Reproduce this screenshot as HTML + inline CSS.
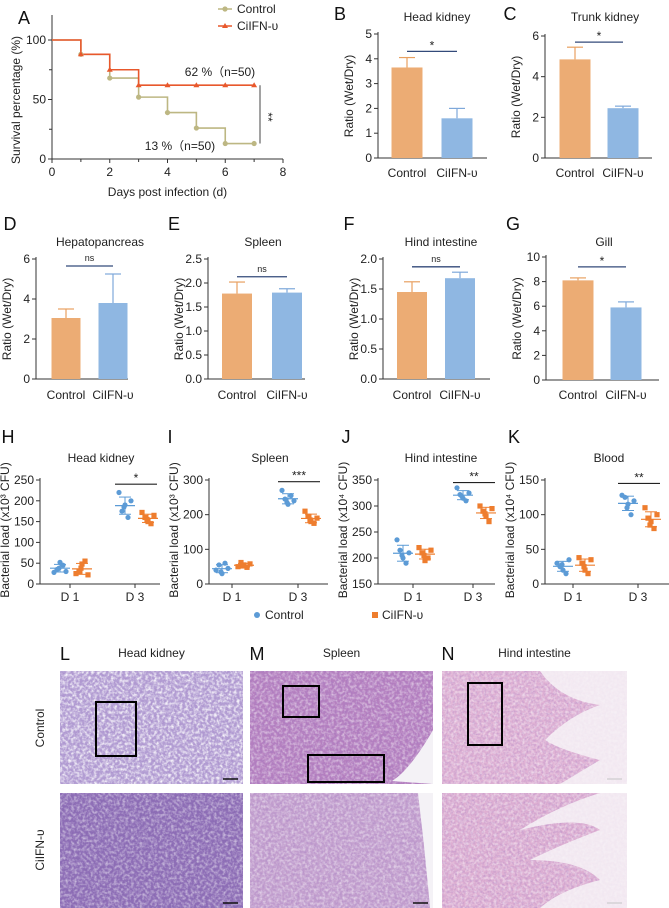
<!DOCTYPE html>
<html><head><meta charset="utf-8"><style>
html,body{margin:0;padding:0;background:#fff;}
svg{display:block;font-family:"Liberation Sans",Arial,sans-serif;}
</style></head><body>
<svg id="fig" width="669" height="908" viewBox="0 0 669 908" xmlns="http://www.w3.org/2000/svg">
<defs>
<filter id="tex1" x="0" y="0" width="100%" height="100%"><feTurbulence type="fractalNoise" baseFrequency="0.35" numOctaves="2" seed="3"/><feColorMatrix type="matrix" values="0 0 0 0 1  0 0 0 0 1  0 0 0 0 1  0 0 0 -2.2 1.35"/></filter>
<filter id="tex2" x="0" y="0" width="100%" height="100%"><feTurbulence type="fractalNoise" baseFrequency="0.45" numOctaves="2" seed="7"/><feColorMatrix type="matrix" values="0 0 0 0 0.35  0 0 0 0 0.2  0 0 0 0 0.55  0 0 0 -1.6 1.0"/></filter>
</defs>
<g id="panels"></g>
</svg>
<script>
const NS='http://www.w3.org/2000/svg';
const root=document.getElementById('panels');
function mk(tag,attrs,name,parent){
  const el=document.createElementNS(NS,tag);
  for(const k in attrs) el.setAttribute(k,attrs[k]);
  
  
  (parent||root).appendChild(el);return el;
}
function txt(x,y,s,name,o){o=o||{};const t=mk('text',Object.assign({x:x,y:y,'font-size':o.fs||11,'text-anchor':o.anchor||'middle',fill:o.fill||'#222'},o.extra||{}),name);t.textContent=s;return t;}

/* ---------- Panel A data ---------- */
const survDays=[0,1,2,3,4,5,6,7];
const survControl=[100,88,68,52,39,26,13,13];
const survCiIFN=[100,88,75,62,62,62,62,62];
const survXTicks=[0,2,4,6,8];
const survYTicks=[0,50,100];

/* ---------- Bar panels data (B-G) ---------- */
const barTitles=['Head kidney','Trunk kidney','Hepatopancreas','Spleen','Hind intestine','Gill'];
const barLetters=['B','C','D','E','F','G'];
const barCategories=['Control','CiIFN-υ'];
const barControl=[3.65,4.85,3.05,1.78,1.45,8.1];
const barCiIFN=[1.6,2.45,3.8,1.8,1.68,5.9];
const errControl=[0.4,0.6,0.45,0.24,0.17,0.2];
const errCiIFN=[0.4,0.1,1.45,0.08,0.1,0.45];
const barSigLabels=['*','*','ns','ns','ns','*'];
const barSigLevel=[4.3,5.7,5.65,2.13,1.87,9.2];
const barYMax=[5,6,6,2.5,2.0,10];
const barYTicks=[[0,1,2,3,4,5],[0,2,4,6],[0,2,4,6],[0,0.5,1.0,1.5,2.0,2.5],[0,0.5,1.0,1.5,2.0],[0,2,4,6,8,10]];

/* ---------- Scatter panels data (H-K) ---------- */
const scTitles=['Head kidney','Spleen','Hind intestine','Blood'];
const scLetters=['H','I','J','K'];
const scDays=['D 1','D 3'];
const scUnits=['(x10³ CFU)','(x10³ CFU)','(x10⁴ CFU)','(x10⁴ CFU)'];
const scYMin=[0,0,150,0];
const scYMax=[250,300,350,150];
const scYTicks=[[0,50,100,150,200,250],[0,100,200,300],[150,200,250,300,350],[0,50,100,150]];
const ctrlD1=[[28,35,52,45,30,38],[40,55,30,60,45,35],[235,215,200,190,210,205],[30,25,20,15,35,28]];
const ctrlD3=[[220,175,190,160,200,185],[270,245,230,255,240,235],[335,322,315,310,325,318],[128,125,115,100,120,110]];
const ifnD1=[[25,30,48,55,22,38],[50,62,55,48,58,52],[220,210,195,200,215,205],[38,30,20,15,35,25]];
const ifnD3=[[172,160,150,145,165,155],[210,195,180,175,190,185],[300,290,280,270,295,285],[110,95,90,80,100,85]];
const scSig=['*','***','**','**'];
const scSigLevel=[240,295,345,145];

const C_ORANGE_BAR='#ECAC74',C_BLUE_BAR='#8FB7E2',C_DOT_B='#5C9BD6',C_DOT_O='#EE7D2E';

/* ---------- Panel A ---------- */
(function(){
  const ax=52,ay0=159,ayT=40,axE=283;
  const X=d=>ax+(d/8)*(axE-ax), Y=v=>ay0-(v/100)*(ay0-ayT);
  txt(24,24,'A','panel-label-a',{fs:18,anchor:'middle',fill:'#111'});
  mk('line',{x1:ax,y1:15,x2:ax,y2:ay0,stroke:'#333','stroke-width':1},'a-y-axis');
  mk('line',{x1:ax,y1:ay0,x2:axE,y2:ay0,stroke:'#333','stroke-width':1},'a-x-axis');
  survYTicks.forEach(v=>{mk('line',{x1:ax-4,y1:Y(v),x2:ax,y2:Y(v),stroke:'#333'},'a-y-tick');txt(ax-6,Y(v)+4,String(v),'a-y-tick-label',{anchor:'end',fs:12});});
  [25,75].forEach(v=>mk('line',{x1:ax-3,y1:Y(v),x2:ax,y2:Y(v),stroke:'#333'},'a-y-minor-tick'));
  survXTicks.forEach(v=>{mk('line',{x1:X(v),y1:ay0,x2:X(v),y2:ay0+4,stroke:'#333'},'a-x-tick');txt(X(v),ay0+17,String(v),'a-x-tick-label',{fs:12});});
  [1,3,5,7].forEach(v=>mk('line',{x1:X(v),y1:ay0,x2:X(v),y2:ay0+3,stroke:'#333'},'a-x-minor-tick'));
  txt((ax+axE)/2,196,'Days post infection (d)','a-x-axis-title',{fs:12});
  txt(0,0,'Survival percentage (%)','a-y-axis-title',{fs:12,extra:{transform:'translate(20,100) rotate(-90)'}});
  function step(arr,color,name){
    let d='M'+X(survDays[0])+','+Y(arr[0]);
    for(let i=1;i<survDays.length;i++){d+=' H'+X(survDays[i])+' V'+Y(arr[i]);}
    mk('path',{d:d,fill:'none',stroke:color,'stroke-width':1.6},name);
  }
  step(survControl,'#BDB783','control-survival-line');
  step(survCiIFN,'#E8582C','ciifn-survival-line');
  for(let i=1;i<survDays.length;i++){
    mk('circle',{cx:X(survDays[i]),cy:Y(survControl[i]),r:2.6,fill:'#BDB783'},'control-survival-point');
    const x=X(survDays[i]),y=Y(survCiIFN[i]);
    mk('path',{d:`M${x},${y-3} L${x+3},${y+2} L${x-3},${y+2}Z`,fill:'#E8582C'},'ciifn-survival-point');
  }
  txt(220,76,'62 %（n=50)','a-ciifn-annotation',{fs:12});
  txt(180,150,'13 %（n=50)','a-control-annotation',{fs:12});
  mk('line',{x1:260,y1:Y(survCiIFN[7]),x2:260,y2:Y(survControl[7]),stroke:'#444'},'a-significance-bar');
  txt(0,0,'**','a-significance-stars',{fs:12,extra:{transform:'translate(264,117) rotate(90)'}});
  mk('circle',{cx:225,cy:9,r:2.6,fill:'#BDB783'},'legend-control-marker');
  mk('line',{x1:218,y1:9,x2:232,y2:9,stroke:'#BDB783','stroke-width':1.5},'legend-control-line');
  txt(237,13,'Control','legend-control-label',{anchor:'start',fs:12});
  mk('line',{x1:218,y1:26,x2:232,y2:26,stroke:'#E8582C','stroke-width':1.5},'legend-ciifn-line');
  mk('path',{d:'M225,23 L228,28 L222,28Z',fill:'#E8582C'},'legend-ciifn-marker');
  txt(237,30,'CiIFN-υ','legend-ciifn-label',{anchor:'start',fs:12});
})();

/* ---------- Bar panels ---------- */
const barLayout=[
 {ax:378,axE:487,y0:158,yT:34,c1:407,c2:457,w:31,title:[437,21],cat:177,lab:[340,20]},
 {ax:545,axE:652,y0:158,yT:36,c1:575,c2:623,w:31,title:[605,21],cat:177,lab:[510,20]},
 {ax:36,axE:128,y0:379,yT:259,c1:66,c2:113,w:29,title:[100,246],cat:399,lab:[10,230]},
 {ax:208,axE:305,y0:379,yT:259,c1:237,c2:287,w:30,title:[263,246],cat:399,lab:[174,230]},
 {ax:383,axE:490,y0:379,yT:259,c1:412,c2:460,w:30,title:[441,246],cat:399,lab:[349,230]},
 {ax:546,axE:659,y0:380,yT:257,c1:578,c2:626,w:31,title:[604,246],cat:399,lab:[513,230]}
];
barTitles.forEach((t,i)=>{
  const L=barLayout[i];
  const Y=v=>L.y0-(v/barYMax[i])*(L.y0-L.yT);
  txt(L.lab[0],L.lab[1],barLetters[i],'panel-label-'+barLetters[i].toLowerCase(),{fs:18,fill:'#111'});
  txt(L.title[0],L.title[1],t,'bar-panel-title',{fs:12});
  mk('line',{x1:L.ax,y1:L.yT-2,x2:L.ax,y2:L.y0,stroke:'#333'},'bar-y-axis');
  mk('line',{x1:L.ax,y1:L.y0,x2:L.axE,y2:L.y0,stroke:'#333'},'bar-x-axis');
  barYTicks[i].forEach(v=>{mk('line',{x1:L.ax-4,y1:Y(v),x2:L.ax,y2:Y(v),stroke:'#333'},'bar-y-tick');
    txt(L.ax-6,Y(v)+4,(barYMax[i]<=2.5?v.toFixed(1):String(v)),'bar-y-tick-label',{anchor:'end',fs:12});});
  txt(0,0,'Ratio (Wet/Dry)','bar-y-axis-title',{fs:12,extra:{transform:`translate(${L.ax-25},${(L.y0+L.yT)/2}) rotate(-90)`}});
  [[L.c1,barControl[i],errControl[i],C_ORANGE_BAR,'#E8A060','bar-control'],[L.c2,barCiIFN[i],errCiIFN[i],C_BLUE_BAR,'#7EA8DA','bar-ciifn']].forEach(b=>{
    mk('line',{x1:b[0],y1:Y(b[1]),x2:b[0],y2:Y(b[1]+b[2]),stroke:b[4],'stroke-width':1.2},'error-bar');
    mk('line',{x1:b[0]-8,y1:Y(b[1]+b[2]),x2:b[0]+8,y2:Y(b[1]+b[2]),stroke:b[4],'stroke-width':1.2},'error-cap');
    mk('rect',{x:b[0]-L.w/2,y:Y(b[1]),width:L.w,height:L.y0-Y(b[1]),fill:b[3]},b[5]);
  });
  txt(L.c1,L.cat,barCategories[0],'bar-category-label',{fs:12});
  txt(L.c2,L.cat,barCategories[1],'bar-category-label',{fs:12});
  const sy=Y(barSigLevel[i]);
  mk('line',{x1:L.c1,y1:sy,x2:L.c2,y2:sy,stroke:'#334a7a','stroke-width':1.3},'significance-line');
  txt((L.c1+L.c2)/2,sy-(barSigLabels[i]==='ns'?5:2),barSigLabels[i],'significance-label',{fs:barSigLabels[i]==='ns'?9:12});
});

/* ---------- Scatter panels ---------- */
const scLayout=[
 {ax:40,axE:160,d1:70,d3:135,lab:[8,443],title:101},
 {ax:209,axE:328,d1:232,d3:298,lab:[170,443],title:270},
 {ax:378,axE:495,d1:413,d3:473,lab:[346,443],title:441},
 {ax:545,axE:669,d1:573,d3:638,lab:[514,443],title:609}
];
const jit=[-6,-3,0,3,6,-1];
function sd(a){const m=a.reduce((s,v)=>s+v,0)/a.length;return [m,Math.sqrt(a.reduce((s,v)=>s+(v-m)*(v-m),0)/(a.length-1))];}
scTitles.forEach((t,i)=>{
  const L=scLayout[i],y0=584,yT=480;
  const Y=v=>y0-((v-scYMin[i])/(scYMax[i]-scYMin[i]))*(y0-yT);
  txt(L.lab[0],L.lab[1],scLetters[i],'panel-label-'+scLetters[i].toLowerCase(),{fs:18,fill:'#111'});
  txt(L.title,462,t,'scatter-panel-title',{fs:12});
  mk('line',{x1:L.ax,y1:yT-2,x2:L.ax,y2:y0,stroke:'#333'},'scatter-y-axis');
  mk('line',{x1:L.ax,y1:y0,x2:L.axE,y2:y0,stroke:'#333'},'scatter-x-axis');
  scYTicks[i].forEach(v=>{mk('line',{x1:L.ax-4,y1:Y(v),x2:L.ax,y2:Y(v),stroke:'#333'},'scatter-y-tick');
    txt(L.ax-6,Y(v)+4,String(v),'scatter-y-tick-label',{anchor:'end',fs:12});});
  txt(0,0,'Bacterial load '+scUnits[i],'scatter-y-axis-title',{fs:12,extra:{transform:`translate(${L.ax-31},${530}) rotate(-90)`}});
  [L.d1,L.d3].forEach((x,k)=>{mk('line',{x1:x,y1:y0,x2:x,y2:y0+4,stroke:'#333'},'scatter-x-tick');txt(x,601,scDays[k],'scatter-x-tick-label',{fs:12});});
  const groups=[[L.d1-10,ctrlD1[i],C_DOT_B,'c'],[L.d1+12,ifnD1[i],C_DOT_O,'o'],[L.d3-10,ctrlD3[i],C_DOT_B,'c'],[L.d3+13,ifnD3[i],C_DOT_O,'o']];
  groups.forEach(g=>{
    const [m,s]=sd(g[1]);
    mk('line',{x1:g[0]-10,y1:Y(m),x2:g[0]+10,y2:Y(m),stroke:g[2],'stroke-width':1.2},'mean-line');
    mk('line',{x1:g[0],y1:Y(m-s),x2:g[0],y2:Y(m+s),stroke:g[2],'stroke-width':1},'sd-whisker');
    mk('line',{x1:g[0]-6,y1:Y(m+s),x2:g[0]+6,y2:Y(m+s),stroke:g[2]},'sd-cap');
    mk('line',{x1:g[0]-6,y1:Y(m-s),x2:g[0]+6,y2:Y(m-s),stroke:g[2]},'sd-cap');
    g[1].forEach((v,j)=>{
      if(g[3]==='c') mk('circle',{cx:g[0]+jit[j],cy:Y(v),r:2.6,fill:g[2]},'control-point');
      else mk('rect',{x:g[0]+jit[j]-2.6,y:Y(v)-2.6,width:5.2,height:5.2,fill:g[2]},'ciifn-point');
    });
  });
  const sy=Y(scSigLevel[i]);
  mk('line',{x1:L.d3-20,y1:sy,x2:L.d3+22,y2:sy,stroke:'#222','stroke-width':1.1},'scatter-significance-line');
  txt(L.d3+1,sy-2,scSig[i],'scatter-significance-label',{fs:12});
});
mk('circle',{cx:257,cy:615,r:3,fill:C_DOT_B},'legend-control-dot');
txt(265,619,'Control','scatter-legend-control',{anchor:'start',fs:12});
mk('rect',{x:372,y:612,width:6,height:6,fill:C_DOT_O},'legend-ciifn-square');
txt(382,619,'CiIFN-υ','scatter-legend-ciifn',{anchor:'start',fs:12});

/* ---------- Histology ---------- */
const histoCols=[{x:60,w:183,title:'Head kidney',L:'L',lx:65},{x:250,w:183,title:'Spleen',L:'M',lx:257},{x:442,w:185,title:'Hind intestine',L:'N',lx:448}];
const histoRows=[{y:671,h:113},{y:793,h:115}];
const histoColors=[['#B4A0D4','#8B6CB4'],['#B57FBF','#C4A0CE'],['#E0B2D4','#DEAFD2']];
histoCols.forEach((c,ci)=>{
  txt(c.lx,660,c.L,'panel-label-'+c.L.toLowerCase(),{fs:18,fill:'#111',anchor:'middle'});
  txt(c.x+c.w/2,657,c.title,'histology-title',{fs:12});
  histoRows.forEach((r,ri)=>{
    mk('rect',{x:c.x,y:r.y,width:c.w,height:r.h,fill:histoColors[ci][ri]},'histology-image');
    mk('rect',{x:c.x,y:r.y,width:c.w,height:r.h,fill:'#fff',filter:'url(#tex2)',opacity:0.5},'histology-texture');
    mk('rect',{x:c.x,y:r.y,width:c.w,height:r.h,fill:'#fff',filter:'url(#tex1)',opacity:ri===0&&ci===0?0.9:0.5},'histology-speckle');
    mk('line',{x1:c.x+c.w-20,y1:r.y+r.h-5,x2:c.x+c.w-5,y2:r.y+r.h-5,stroke:'#111','stroke-width':1.5},'scale-bar');
  });
});
/* white lumen areas */
mk('path',{d:'M433,730 Q410,770 392,781 L433,784Z',fill:'#f4f2f6'},'spleen-lumen');
mk('path',{d:'M433,793 L418,793 Q425,850 430,908 L433,908Z',fill:'#f4f2f6'},'spleen-lumen-2');
mk('path',{d:'M540,671 Q560,700 600,705 Q570,715 545,740 Q560,750 600,760 L560,784 L627,784 L627,671Z',fill:'#f7f3f7',opacity:0.85},'intestine-lumen');
mk('path',{d:'M520,830 Q580,815 600,830 Q560,845 530,860 Q580,860 600,880 Q560,890 540,908 L627,908 L627,793 L600,793 Q560,805 520,830Z',fill:'#f7f3f7',opacity:0.85},'intestine-lumen-2');
mk('rect',{x:96,y:702,width:40,height:54,fill:'none',stroke:'#000','stroke-width':2},'roi-box-head-kidney');
mk('rect',{x:283,y:686,width:36,height:31,fill:'none',stroke:'#000','stroke-width':2},'roi-box-spleen-1');
mk('rect',{x:308,y:755,width:76,height:27,fill:'none',stroke:'#000','stroke-width':2},'roi-box-spleen-2');
mk('rect',{x:468,y:683,width:34,height:62,fill:'none',stroke:'#000','stroke-width':2},'roi-box-intestine');
txt(0,0,'Control','row-label-control',{fs:12,extra:{transform:'translate(44,728) rotate(-90)'}});
txt(0,0,'CiIFN-υ','row-label-ciifn',{fs:12,extra:{transform:'translate(44,850) rotate(-90)'}});
</script>
</body></html>
